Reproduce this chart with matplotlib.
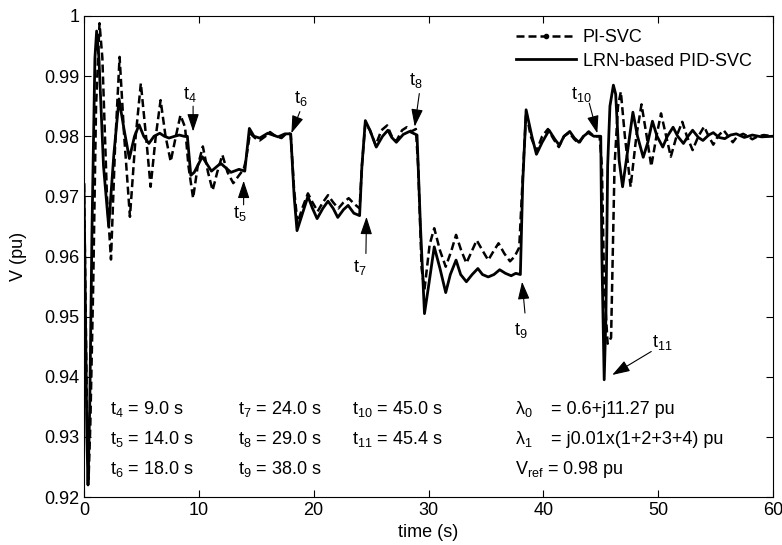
import numpy as np
import matplotlib.pyplot as plt
from matplotlib.lines import Line2D

plt.rcParams['font.family'] = 'Liberation Sans'
plt.rcParams['mathtext.fontset'] = 'custom'
plt.rcParams['mathtext.rm'] = 'Liberation Sans'
plt.rcParams['mathtext.it'] = 'Liberation Sans:italic'
plt.rcParams['font.size'] = 12

# LRN-based PID-SVC (solid)
t_pid = [0.0, 0.1, 0.25, 0.35, 0.5, 0.7, 0.95, 1.1, 1.3, 1.7, 2.15, 2.6, 3.05, 3.5,
         3.95, 4.4, 4.8, 5.2, 5.65, 6.1, 6.6, 7.0, 7.4, 7.9, 8.3, 8.7, 9.0, 9.3,
         9.6, 10.3, 11.1, 11.9, 12.8, 13.5, 14.0, 14.4, 14.8, 15.3, 16.0, 16.9,
         17.5, 18.0, 18.3, 18.55, 19.0, 19.5, 19.9, 20.3, 20.8, 21.25, 21.7, 22.1,
         22.6, 23.0, 23.5, 24.0, 24.2, 24.5, 24.9, 25.45, 26.0, 26.46, 26.8, 27.2,
         27.8, 28.35, 29.0, 29.3, 29.65, 30.0, 30.5, 31.0, 31.5, 31.9, 32.4, 32.8,
         33.3, 33.8, 34.3, 34.7, 35.2, 35.7, 36.2, 36.7, 37.2, 37.6, 38.0, 38.2,
         38.5, 39.0, 39.4, 39.9, 40.5, 41.0, 41.4, 41.8, 42.3, 42.7, 43.1, 43.5,
         43.9, 44.4, 45.0, 45.1, 45.3, 45.45, 45.6, 45.8, 46.1, 46.3, 46.6, 46.9,
         47.3, 47.8, 48.2, 48.7, 49.1, 49.5, 49.9, 50.4, 50.8, 51.3, 51.7, 52.2,
         52.6, 53.0, 53.5, 53.9, 54.4, 54.8, 55.3, 55.8, 56.3, 56.8, 57.5, 58.2,
         59.0, 60.0]
v_pid = [0.972, 0.955, 0.930, 0.922, 0.935, 0.965, 0.993, 0.9975, 0.993, 0.975,
         0.965, 0.977, 0.9862, 0.981, 0.9763, 0.980, 0.9819, 0.980, 0.9788, 0.980,
         0.9805, 0.980, 0.9797, 0.980, 0.9802, 0.980, 0.980, 0.9735, 0.974, 0.9766,
         0.9742, 0.9755, 0.974, 0.9745, 0.9742, 0.9813, 0.980, 0.9797, 0.9805,
         0.9799, 0.9804, 0.9804, 0.970, 0.9643, 0.967, 0.970, 0.968, 0.9663, 0.968,
         0.9692, 0.968, 0.9665, 0.9678, 0.9685, 0.9672, 0.9668, 0.975, 0.9826,
         0.981, 0.9782, 0.980, 0.981, 0.9798, 0.979, 0.9803, 0.9808, 0.9802, 0.965,
         0.9505, 0.955, 0.9616, 0.958, 0.954, 0.957, 0.9594, 0.957, 0.9558, 0.957,
         0.958, 0.957, 0.9566, 0.957, 0.9578, 0.9572, 0.9568, 0.9572, 0.957, 0.972,
         0.9844, 0.980, 0.977, 0.979, 0.981, 0.9795, 0.9785, 0.980, 0.9808, 0.9797,
         0.979, 0.980, 0.9806, 0.980, 0.980, 0.960, 0.9395, 0.950, 0.975, 0.985,
         0.9885, 0.987, 0.976, 0.9716, 0.977, 0.984, 0.980, 0.9765, 0.979, 0.9825,
         0.980, 0.9782, 0.980, 0.9815, 0.980, 0.9788, 0.980, 0.981, 0.9798, 0.9793,
         0.9802, 0.9806, 0.9798, 0.9796, 0.9802, 0.9804, 0.9798, 0.9802, 0.9799,
         0.980]

# PI-SVC (dashed)
t_pi = [0.0, 0.1, 0.25, 0.4, 0.55, 0.8, 1.05, 1.35, 1.6, 2.0, 2.35, 2.7, 3.1, 3.5,
        4.0, 4.5, 4.95, 5.4, 5.8, 6.25, 6.67, 7.1, 7.55, 8.0, 8.4, 8.8, 9.1, 9.5,
        9.9, 10.35, 10.8, 11.2, 11.6, 12.05, 12.5, 13.0, 13.5, 13.9, 14.1, 14.45,
        14.9, 15.3, 15.8, 16.2, 16.7, 17.2, 17.7, 18.0, 18.3, 18.6, 19.0, 19.5,
        19.9, 20.35, 20.8, 21.25, 21.7, 22.15, 22.6, 23.05, 23.5, 24.0, 24.2, 24.5,
        24.9, 25.4, 25.9, 26.4, 26.8, 27.2, 27.7, 28.1, 28.5, 28.9, 29.1, 29.4,
        29.65, 30.1, 30.5, 31.0, 31.5, 32.0, 32.4, 32.85, 33.3, 33.8, 34.2, 34.7,
        35.2, 35.7, 36.1, 36.6, 37.1, 37.5, 37.9, 38.2, 38.5, 38.9, 39.4, 39.9,
        40.4, 40.9, 41.35, 41.8, 42.25, 42.7, 43.1, 43.5, 43.95, 44.4, 44.9, 45.1,
        45.3, 45.6, 45.9, 46.2, 46.5, 46.75, 47.1, 47.6, 48.1, 48.55, 49.0, 49.4,
        49.85, 50.25, 50.7, 51.1, 51.6, 52.1, 52.5, 53.0, 53.5, 54.0, 54.4, 54.8,
        55.2, 55.7, 56.1, 56.5, 56.9, 57.4, 57.8, 58.2, 58.7, 59.2, 60.0]
v_pi = [0.972, 0.958, 0.935, 0.923, 0.932, 0.955, 0.985, 0.9988, 0.993, 0.970,
        0.9595, 0.978, 0.9932, 0.980, 0.9666, 0.980, 0.9888, 0.980, 0.9716, 0.980,
        0.986, 0.980, 0.9758, 0.980, 0.9835, 0.9815, 0.975, 0.9697, 0.975, 0.9783,
        0.974, 0.971, 0.974, 0.9769, 0.974, 0.9722, 0.9735, 0.9745, 0.976, 0.9805,
        0.9797, 0.9793, 0.980, 0.9807, 0.980, 0.9797, 0.9806, 0.9803, 0.971,
        0.9655, 0.968, 0.9705, 0.969, 0.9675, 0.969, 0.9702, 0.969, 0.968, 0.969,
        0.9697, 0.9688, 0.968, 0.975, 0.9822, 0.981, 0.9785, 0.981, 0.9818, 0.980,
        0.9792, 0.981, 0.9815, 0.9808, 0.9812, 0.975, 0.958, 0.9545, 0.962, 0.9647,
        0.961, 0.9583, 0.961, 0.9636, 0.961, 0.9589, 0.961, 0.9627, 0.961, 0.9594,
        0.961, 0.9622, 0.9605, 0.9592, 0.960, 0.9615, 0.973, 0.984, 0.980, 0.9775,
        0.980, 0.9812, 0.9795, 0.9782, 0.980, 0.9806, 0.9795, 0.9788, 0.980, 0.9808,
        0.980, 0.980, 0.975, 0.955, 0.9455, 0.9465, 0.975, 0.985, 0.9874, 0.980,
        0.9716, 0.980, 0.9853, 0.980, 0.975, 0.980, 0.9838, 0.980, 0.9766, 0.980,
        0.9824, 0.980, 0.9777, 0.980, 0.9816, 0.980, 0.9786, 0.980, 0.981, 0.980,
        0.979, 0.980, 0.9804, 0.980, 0.9795, 0.980, 0.9802, 0.980]

# event labels: name, text pos, arrow tail, arrow tip
events = ['4', '5', '6', '7', '8', '9', '10', '11']
lab_pos = [(9.2, 0.9870), (13.6, 0.9672), (18.9, 0.9862), (24.0, 0.9582),
           (28.9, 0.9893), (38.05, 0.9477), (43.3, 0.9870), (50.4, 0.9457)]
arr_tail = [(9.5, 0.9850), (13.9, 0.9686), (18.8, 0.9841), (24.55, 0.9605),
            (29.2, 0.9871), (38.4, 0.9506), (44.0, 0.9855), (49.4, 0.9442)]
arr_tip = [(9.5, 0.9808), (13.9, 0.9726), (18.06, 0.9805), (24.6, 0.9666),
           (28.8, 0.9816), (38.15, 0.9558), (44.7, 0.9805), (46.0, 0.9403)]

fig = plt.figure(figsize=(7.82, 5.45), dpi=100)
ax = fig.add_axes([84/782, 48/545, 689/782, 481/545])

ax.plot(t_pi, v_pi, 'k--', lw=1.8, dashes=(3.2, 1.6))
ax.plot(t_pid, v_pid, 'k-', lw=2.0)

for name, lp, tail, tip in zip(events, lab_pos, arr_tail, arr_tip):
    ax.text(lp[0], lp[1], r'$\mathrm{t_{%s}}$' % name, ha='center', va='center', fontsize=13)
    ax.annotate('', xy=tip, xytext=tail,
                arrowprops=dict(arrowstyle='-|>,head_length=0.9,head_width=0.3',
                                color='k', lw=0.8, shrinkA=0, shrinkB=0))

rows = [0.93375, 0.92875, 0.92375]
col1 = [r'$\mathrm{t_{4}}$ = 9.0 s', r'$\mathrm{t_{5}}$ = 14.0 s', r'$\mathrm{t_{6}}$ = 18.0 s']
col2 = [r'$\mathrm{t_{7}}$ = 24.0 s', r'$\mathrm{t_{8}}$ = 29.0 s', r'$\mathrm{t_{9}}$ = 38.0 s']
col3 = [r'$\mathrm{t_{10}}$ = 45.0 s', r'$\mathrm{t_{11}}$ = 45.4 s']
for y, s in zip(rows, col1):
    ax.text(2.3, y, s, va='baseline', fontsize=13)
for y, s in zip(rows, col2):
    ax.text(13.45, y, s, va='baseline', fontsize=13)
for y, s in zip(rows, col3):
    ax.text(23.3, y, s, va='baseline', fontsize=13)
ax.text(37.55, rows[0], r'$\mathrm{λ_0}$', va='baseline', fontsize=13)
ax.text(40.7, rows[0], '= 0.6+j11.27 pu', va='baseline', fontsize=13)
ax.text(37.55, rows[1], r'$\mathrm{λ_1}$', va='baseline', fontsize=13)
ax.text(40.7, rows[1], '= j0.01x(1+2+3+4) pu', va='baseline', fontsize=13)
ax.text(37.55, rows[2], r'$\mathrm{V_{ref}}$ = 0.98 pu', va='baseline', fontsize=13)

handles = [Line2D([], [], color='k', ls='--', lw=1.8, marker='.', markersize=6, dashes=(3.2, 1.6)),
           Line2D([], [], color='k', ls='-', lw=2.0)]
ax.legend(handles, ['PI-SVC', 'LRN-based PID-SVC'], loc='upper right', frameon=False,
          handlelength=3.3, handletextpad=0.4, labelspacing=0.35, fontsize=13,
          bbox_to_anchor=(0.985, 0.995), borderaxespad=0.2)

ax.set_xlim(0, 60)
ax.set_ylim(0.92, 1.0)
ax.set_xticks(np.arange(0, 61, 10))
ax.set_yticks([0.92, 0.93, 0.94, 0.95, 0.96, 0.97, 0.98, 0.99, 1.0])
ax.set_yticklabels(['0.92', '0.93', '0.94', '0.95', '0.96', '0.97', '0.98', '0.99', '1'])
ax.tick_params(direction='in', top=True, right=True, length=5, labelsize=13)
ax.set_xlabel('time (s)', fontsize=13, labelpad=4)
ax.set_ylabel('V (pu)', fontsize=13, labelpad=12)

fig.savefig('out.png', dpi=100)
